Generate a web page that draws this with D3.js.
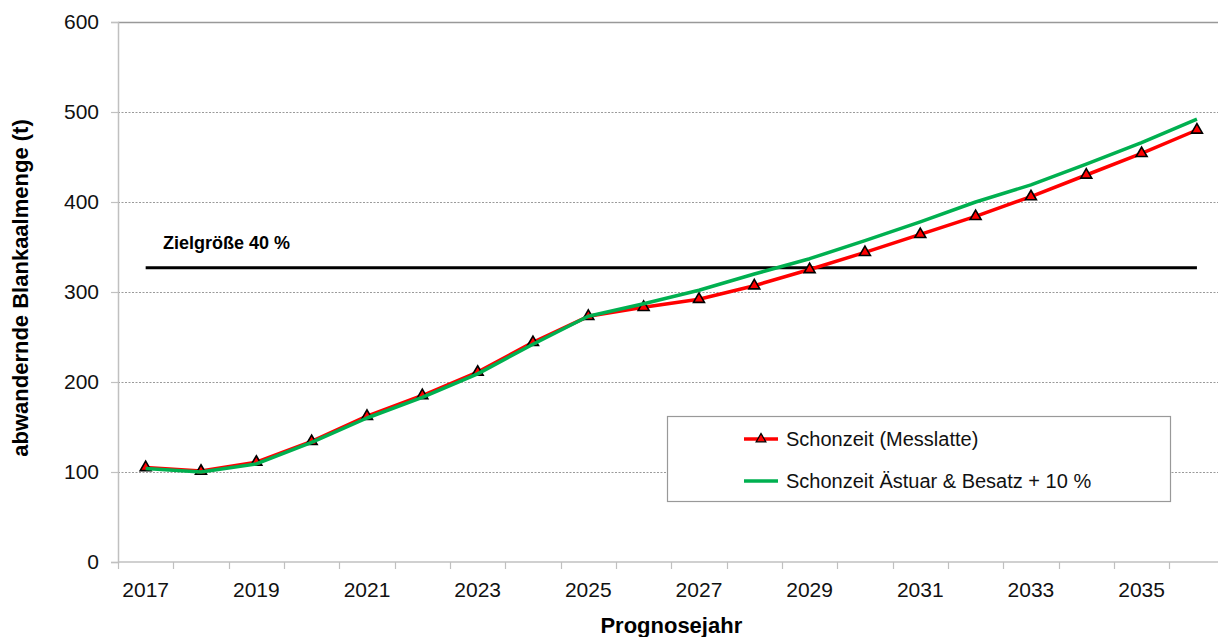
<!DOCTYPE html>
<html lang="de">
<head>
<meta charset="utf-8">
<title>Abwandernde Blankaalmenge – Prognose</title>
<script src="https://cdn.jsdelivr.net/npm/d3@7/dist/d3.min.js"></script>
<style>
  html, body { margin: 0; padding: 0; background: #fff; overflow: hidden; }
  svg { display: block; font-family: "Liberation Sans", Arial, sans-serif; }
</style>
</head>
<body>
<svg id="chart" width="1218" height="637"></svg>
<script>
// Prognosejahre (Kategorien der x-Achse)
const jahre = [2017, 2018, 2019, 2020, 2021, 2022, 2023, 2024, 2025, 2026,
               2027, 2028, 2029, 2030, 2031, 2032, 2033, 2034, 2035, 2036];

// abwandernde Blankaalmenge in t
const schonzeitMesslatte = [105, 101, 111, 134, 162, 185, 211, 244, 273, 283,
                            292, 307, 325, 344, 364, 384, 406, 430, 454, 480];
const schonzeitAestuarBesatz = [104, 100, 109, 133, 160, 183, 209, 242, 273, 287,
                                302, 320, 337, 357, 378, 400, 419, 442, 466, 492];

// Zielgröße (40 %) in t
const zielgroesse = 327;

// Achsenbeschriftungen
const yTicks = [0, 100, 200, 300, 400, 500, 600];
const xLabelJahre = [2017, 2019, 2021, 2023, 2025, 2027, 2029, 2031, 2033, 2035];

const serien = [
  { name: "Schonzeit (Messlatte)", werte: schonzeitMesslatte, farbe: "#ff0000", marker: true },
  { name: "Schonzeit Ästuar & Besatz + 10 %", werte: schonzeitAestuarBesatz, farbe: "#00b050", marker: false }
];

const svg = d3.select("#chart");
const plot = { left: 118, right: 1224.6, top: 22, bottom: 562 };

const x = d3.scaleBand()
  .domain(jahre)
  .range([plot.left, plot.right])
  .paddingInner(0).paddingOuter(0);
const xc = j => x(j) + x.bandwidth() / 2;

const y = d3.scaleLinear().domain([0, 600]).range([plot.bottom, plot.top]);

// Hilfslinien
svg.append("g")
  .selectAll("line")
  .data(yTicks.filter(t => t > 0 && t < 600))
  .join("line")
  .attr("x1", plot.left).attr("x2", plot.right)
  .attr("y1", d => Math.round(y(d)) + 0.5).attr("y2", d => Math.round(y(d)) + 0.5)
  .attr("stroke", "#9a9a9a")
  .attr("stroke-width", 1)
  .attr("stroke-dasharray", "2,1.5");

// obere Rahmenlinie
svg.append("line")
  .attr("x1", plot.left).attr("x2", plot.right)
  .attr("y1", y(600) + 0.5).attr("y2", y(600) + 0.5)
  .attr("stroke", "#999").attr("stroke-width", 1.5);

// y-Achse
const yAxis = d3.axisLeft(y).tickValues(yTicks).tickSize(7).tickPadding(12).tickFormat(d3.format("d"));
const gy = svg.append("g").attr("transform", `translate(${plot.left},0)`).call(yAxis);
gy.select(".domain").attr("stroke", "#c0c0c0").attr("stroke-width", 1.5);
gy.selectAll(".tick line").attr("stroke", "#c0c0c0").attr("stroke-width", 1.2);
gy.selectAll(".tick text").attr("font-size", 21).attr("fill", "#111")
  .attr("font-family", "'Liberation Sans', Arial, sans-serif");

// x-Achse: Teilstriche an den Kategoriegrenzen, Beschriftung jedes zweite Jahr
const gx = svg.append("g");
gx.append("line")
  .attr("x1", plot.left).attr("x2", plot.right)
  .attr("y1", plot.bottom).attr("y2", plot.bottom)
  .attr("stroke", "#c0c0c0").attr("stroke-width", 1.5);
gx.selectAll("line.tick")
  .data(jahre)
  .join("line")
  .attr("class", "tick")
  .attr("x1", d => Math.round(x(d)) + 0.5).attr("x2", d => Math.round(x(d)) + 0.5)
  .attr("y1", plot.bottom).attr("y2", plot.bottom + 7)
  .attr("stroke", "#c0c0c0").attr("stroke-width", 1.2);
gx.selectAll("text")
  .data(xLabelJahre)
  .join("text")
  .attr("x", d => xc(d))
  .attr("y", 597)
  .attr("text-anchor", "middle")
  .attr("font-size", 21)
  .attr("fill", "#111")
  .text(d => d);

// Achsentitel
svg.append("text")
  .attr("x", (plot.left + plot.right) / 2)
  .attr("y", 633)
  .attr("text-anchor", "middle")
  .attr("font-size", 22).attr("font-weight", "bold")
  .text("Prognosejahr");

svg.append("text")
  .attr("transform", "translate(28,288) rotate(-90)")
  .attr("text-anchor", "middle")
  .attr("font-size", 22).attr("font-weight", "bold")
  .text("abwandernde Blankaalmenge (t)");

// Zielgröße
svg.append("line")
  .attr("x1", xc(jahre[0])).attr("x2", xc(jahre[jahre.length - 1]))
  .attr("y1", y(zielgroesse)).attr("y2", y(zielgroesse))
  .attr("stroke", "#000").attr("stroke-width", 3);
svg.append("text")
  .attr("x", 163).attr("y", 249)
  .attr("font-size", 18).attr("font-weight", "bold")
  .text("Zielgröße 40 %");

// Datenreihen
const linie = d3.line().x((d, i) => xc(jahre[i])).y(d => y(d));
const dreieck = d3.symbol().type(d3.symbolTriangle);

serien.forEach(s => {
  const g = svg.append("g");
  g.append("path")
    .datum(s.werte)
    .attr("d", linie)
    .attr("fill", "none")
    .attr("stroke", s.farbe)
    .attr("stroke-width", 3.5)
    .attr("stroke-linejoin", "round");
  if (s.marker) {
    g.selectAll("path.marker")
      .data(s.werte)
      .join("path")
      .attr("class", "marker")
      .attr("d", dreieck.size(52))
      .attr("transform", (d, i) => `translate(${xc(jahre[i])},${y(d)})`)
      .attr("fill", s.farbe)
      .attr("stroke", "#000")
      .attr("stroke-width", 1.6);
  }
});

// Legende
const legende = svg.append("g");
legende.append("rect")
  .attr("x", 667.5).attr("y", 416.5)
  .attr("width", 503).attr("height", 85)
  .attr("fill", "#fff")
  .attr("stroke", "#999").attr("stroke-width", 1.2);
const legY = [439, 481];
serien.forEach((s, i) => {
  legende.append("line")
    .attr("x1", 744).attr("x2", 778)
    .attr("y1", legY[i]).attr("y2", legY[i])
    .attr("stroke", s.farbe).attr("stroke-width", 3.5);
  if (s.marker) {
    legende.append("path")
      .attr("d", dreieck.size(40))
      .attr("transform", `translate(761,${legY[i]})`)
      .attr("fill", s.farbe).attr("stroke", "#000").attr("stroke-width", 1.3);
  }
  legende.append("text")
    .attr("x", 786).attr("y", legY[i] + 7)
    .attr("font-size", 20)
    .attr("fill", "#111")
    .text(s.name);
});
</script>
</body>
</html>
